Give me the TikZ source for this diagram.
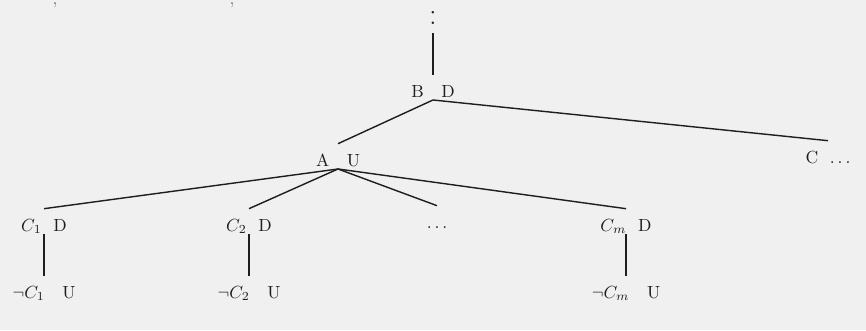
\documentclass[tikz,border=0pt]{standalone}
\usetikzlibrary{positioning}
\definecolor{paper}{RGB}{240,240,240}
\definecolor{ink}{RGB}{30,30,30}
\tikzset{
  vertex/.style={anchor=base,text height=12pt,text depth=1pt,inner sep=0.5pt,text=ink},
  edge/.style={draw=ink,line width=0.8pt},
  scrap/.style={anchor=base,inner sep=0pt,text=ink!60},
}
\begin{document}
\begin{tikzpicture}
  \fill[paper] (0,0) rectangle (17.32,6.6);
  \useasboundingbox (0,0) rectangle (17.32,6.6);
  % cut-off text above the tree
  \node[scrap] (s1) at (1.10,6.52) {,};
  \node[scrap] (s2) at (4.64,6.52) {,};
  % tree
  \node[anchor=base,inner sep=5pt,font=\LARGE,text=ink] (top) at (8.66,6.12) {:};
  \node[vertex] (b) at (8.66,4.66) {B\quad D};
  \node[vertex] (a) at (6.76,3.28) {A\quad U};
  \node[vertex] (c) at (16.56,3.34) {C\ \ $\ldots$};
  \node[vertex] (c1) at (0.88,1.98) {$C_1$\ \ D};
  \node[vertex] (c2) at (4.98,1.98) {$C_2$\ \ D};
  \node[vertex] (dd) at (8.74,2.04) {$\ldots$};
  \node[vertex] (cm) at (12.52,1.98) {$C_m$\ \ D};
  \node[vertex] (n1) at (0.88,0.64) {$\neg C_1$\quad U};
  \node[vertex] (n2) at (4.98,0.64) {$\neg C_2$\quad U};
  \node[vertex] (nm) at (12.52,0.64) {$\neg C_m$\quad U};
  \draw[edge] (top.south) -- (b.north);
  \draw[edge] (b.south) -- (a.north);
  \draw[edge] (b.south) -- (c.north);
  \foreach \k in {c1,c2,dd,cm}
    \draw[edge] (a.south) -- (\k.north);
  \draw[edge] (c1.south) -- (n1.north);
  \draw[edge] (c2.south) -- (n2.north);
  \draw[edge] (cm.south) -- (nm.north);
\end{tikzpicture}
\end{document}
